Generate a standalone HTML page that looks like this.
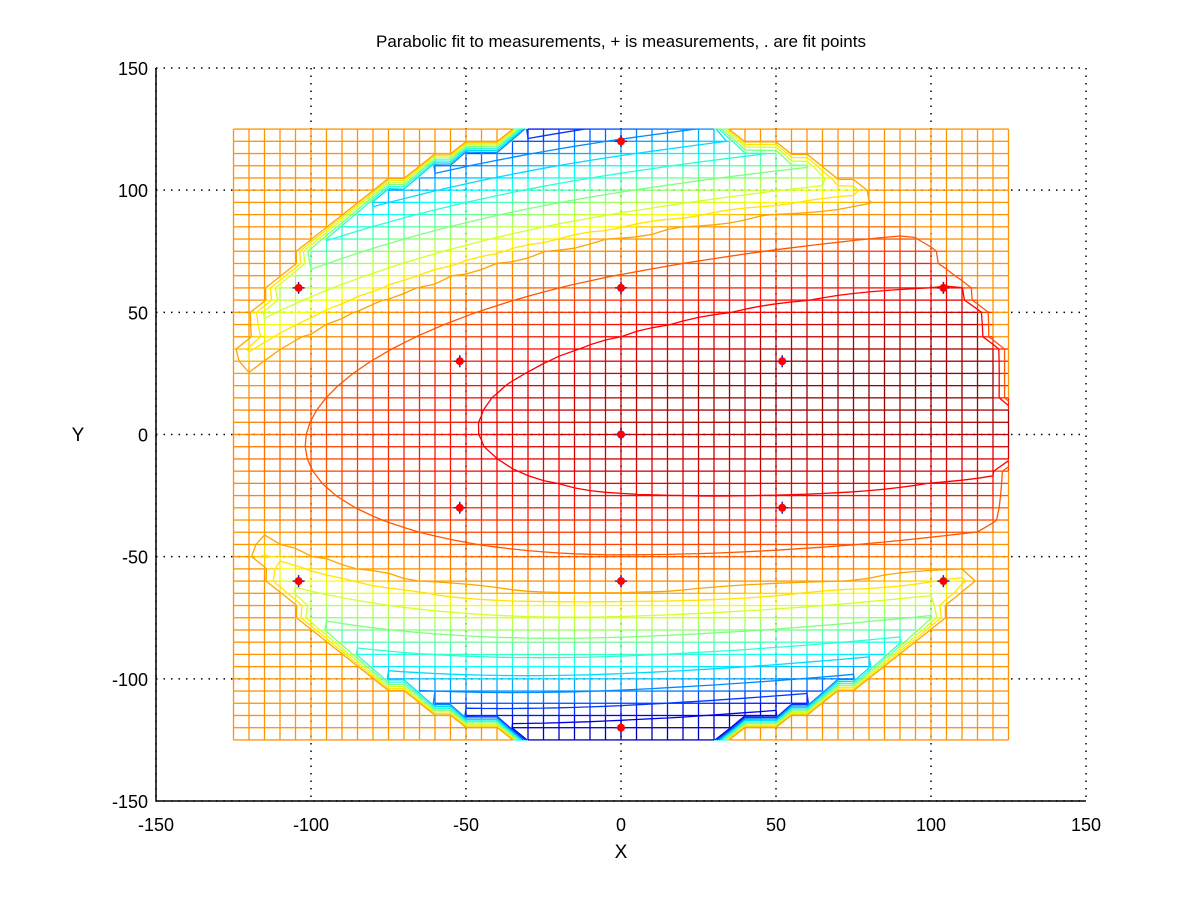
<!DOCTYPE html>
<html><head><meta charset="utf-8"><style>
html,body{margin:0;padding:0;background:#fff;}
svg text{font-family:"Liberation Sans",sans-serif;fill:#000;}
</style></head><body>
<svg id="chart" width="1200" height="900" viewBox="0 0 1200 900" xmlns="http://www.w3.org/2000/svg">
<rect width="1200" height="900" fill="#fff"/>
<text x="621" y="47" font-size="17" text-anchor="middle">Parabolic fit to measurements, + is measurements, . are fit points</text>
<text x="621" y="858" font-size="19" text-anchor="middle">X</text>
<text x="78" y="441" font-size="19" text-anchor="middle">Y</text>
<g id="grid"></g><g id="mesh"></g><g id="contours"></g><g id="axes"></g><g id="points"></g>
</svg>
<script>
const xTicks=[-150,-100,-50,0,50,100,150];
const yTicks=[-150,-100,-50,0,50,100,150];
const ptX=[0,-104,0,104,-52,52,0,-52,52,-104,0,104,0];
const ptY=[120,60,60,60,30,30,0,-30,-30,-60,-60,-60,-120];
const fitCoef=[1,0.111,-0.081,-0.1,0.065,0.12];
const contourLevels=[0.1,0.18,0.26,0.34,0.42,0.5,0.58,0.65,0.715,0.79,0.875];
const meshRange=[-125,125,5];
const outsideValue=[0.73];
const NS='http://www.w3.org/2000/svg';
const X0=156,X1=1086,Y0=801,Y1=68;
function sx(v){return X0+(v+150)/300*(X1-X0);}
function sy(v){return Y0-(v+150)/300*(Y0-Y1);}
function mk(tag,attrs,parent){const e=document.createElementNS(NS,tag);for(const k in attrs)e.setAttribute(k,attrs[k]);parent.appendChild(e);return e;}
function jet(t){t=Math.max(0,Math.min(1,t));
 const f=(a)=>Math.max(0,Math.min(1,1.5-Math.abs(4*t-a)));
 const r=f(3),g=f(2),b=f(1);
 return 'rgb('+Math.round(r*255)+','+Math.round(g*255)+','+Math.round(b*255)+')';}
function field(x,y){
 const inside=(x*x+y*y<=125.5*125.5)||(Math.abs(x)<=30.5);
 if(!inside) return outsideValue[0];
 const u=x/125,v=y/125;
 const vc=fitCoef[4]+fitCoef[5]*u;
 const h=fitCoef[0]+fitCoef[1]*u+fitCoef[2]*u*u+(u<0?fitCoef[3]*u*u:0);
 const z=h-(v-vc)*(v-vc);
 let t;
 if(z>=0.935)t=0.875+(z-0.935);
 else if(z>=0.652)t=0.71+(z-0.652)*0.583;
 else if(z>=0.61)t=0.62+(z-0.61)/0.042*0.09;
 else t=0.62-(0.61-z)*0.85;
 return Math.max(0.05,Math.min(1,t));}
const grid=document.getElementById('grid'),axes=document.getElementById('axes');
xTicks.forEach(v=>{const l=mk('line',{x1:sx(v),x2:sx(v),y1:Y1,y2:Y0,stroke:'#000','stroke-width':1.5,'stroke-dasharray':'1.5,6'},grid);

});
yTicks.forEach(v=>{const l=mk('line',{x1:X0,x2:X1,y1:sy(v),y2:sy(v),stroke:'#000','stroke-width':1.5,'stroke-dasharray':'1.5,6'},grid);

});
const nodes=[];for(let v=meshRange[0];v<=meshRange[1];v+=meshRange[2])nodes.push(v);
const N=nodes.length;const T=[];
for(let i=0;i<N;i++){T.push([]);for(let j=0;j<N;j++)T[i].push(field(nodes[i],nodes[j]));}
const mesh=document.getElementById('mesh');


for(let i=0;i<N;i++)for(let j=0;j<N;j++){
 if(i<N-1)mk('line',{x1:sx(nodes[i]),y1:sy(nodes[j]),x2:sx(nodes[i+1]),y2:sy(nodes[j]),stroke:jet((T[i][j]+T[i+1][j])/2),'stroke-width':1.3},mesh);
 if(j<N-1)mk('line',{x1:sx(nodes[i]),y1:sy(nodes[j]),x2:sx(nodes[i]),y2:sy(nodes[j+1]),stroke:jet((T[i][j]+T[i][j+1])/2),'stroke-width':1.3},mesh);
}
const cg=document.getElementById('contours');
contourLevels.forEach(L=>{
 let d='';
 for(let i=0;i<N-1;i++)for(let j=0;j<N-1;j++){
  const c=[[i,j],[i+1,j],[i+1,j+1],[i,j+1]];const pts=[];
  for(let k=0;k<4;k++){const a=c[k],b=c[(k+1)%4];const va=T[a[0]][a[1]],vb=T[b[0]][b[1]];
   if((va-L)*(vb-L)<0){const f=(L-va)/(vb-va);
    const x=nodes[a[0]]+f*(nodes[b[0]]-nodes[a[0]]),y=nodes[a[1]]+f*(nodes[b[1]]-nodes[a[1]]);
    pts.push([sx(x),sy(y)]);}}
  for(let k=0;k+1<pts.length;k+=2)d+='M'+pts[k][0].toFixed(1)+','+pts[k][1].toFixed(1)+'L'+pts[k+1][0].toFixed(1)+','+pts[k+1][1].toFixed(1);
 }
 const p=mk('path',{d:d,stroke:jet(L),'stroke-width':1.3,fill:'none'},cg);
 
 
});
const ax=mk('path',{d:'M'+X0+','+Y1+'V'+Y0+'H'+X1,stroke:'#000','stroke-width':1.5,fill:'none'},axes);


xTicks.forEach(v=>{const t=mk('text',{x:sx(v),y:Y0+30,'font-size':18,'text-anchor':'middle'},axes);t.textContent=v;

});
yTicks.forEach(v=>{const t=mk('text',{x:X0-8,y:sy(v)+7,'font-size':18,'text-anchor':'end'},axes);t.textContent=v;

});
const pg=document.getElementById('points');
ptX.forEach((x,i)=>{const g=mk('g',{},pg);
 
 
 const cx=sx(x),cy=sy(ptY[i]);
 mk('path',{d:'M'+(cx-6)+','+cy+'H'+(cx+6)+'M'+cx+','+(cy-6)+'V'+(cy+6),stroke:'#2020c0','stroke-width':1.5},g);
 mk('circle',{cx:cx,cy:cy,r:4,fill:'#ff0000'},g);
});
</script>
</body></html>
